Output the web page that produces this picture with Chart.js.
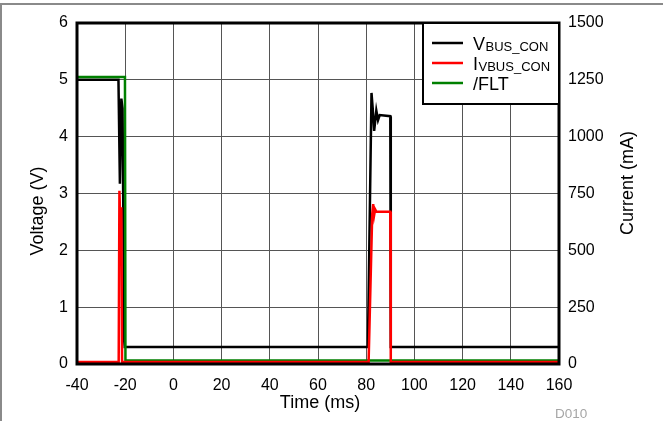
<!DOCTYPE html>
<html>
<head>
<title>VBUS_CON, IVBUS_CON, /FLT</title>
<style>
  body { margin: 0; background: #fff; }
  .chart-container { position: relative; width: 663px; height: 421px; }
</style>
</head>
<body>
<div class="chart-container">
<canvas id="mycanvas" width="663" height="421"></canvas>
</div>

<script src="https://cdn.jsdelivr.net/npm/chart.js@4.4.0/dist/chart.umd.min.js"></script>
<script>
var vbusTime = [-40, -22.8, -22.2, -21.6, -21.1, -20.4, -20.2, 80.7, 82.2, 82.7, 83.3, 84.2, 84.9, 85.6, 90.0, 90.2, 160];
var vbusVolt = [5.0, 5.0, 3.17, 4.67, 4.5, 0.4, 0.3, 0.3, 4.77, 4.5, 4.1, 4.46, 4.29, 4.38, 4.36, 0.3, 0.3];

var ibusTime = [-40, -22.7, -22.4, -22.0, -21.6, -21.3, 81.0, 82.5, 82.9, 83.3, 83.7, 84.2, 90.0, 90.2, 160];
var ibusMa   = [9, 9, 762, 612, 690, 9, 9, 660, 703, 655, 680, 670, 670, 9, 9];

var fltTime = [-40, -20.1, -19.9, 160];
var fltVolt = [5.05, 5.05, 0.06, 0.06];

var timeTicks = [-40, -20, 0, 20, 40, 60, 80, 100, 120, 140, 160];
var voltTicks = [0, 1, 2, 3, 4, 5, 6];
var currTicks = [0, 250, 500, 750, 1000, 1250, 1500];

function points(xs, ys) {
  var out = [];
  for (var i in xs) out.push({x: xs[i], y: ys[i]});
  return out;
}

function fixedTicks(list) {
  return function(s) { s.ticks = list.map(function(v) { return {value: v}; }); };
}

function plain(v) { return String(v); }

var FONT = '"Liberation Sans", Arial, sans-serif';

var extras = {
  id: 'extras',
  afterDatasetsDraw: function(chart) {
    var ctx = chart.ctx, a = chart.chartArea;
    ctx.save();
    ctx.strokeStyle = '#000';
    ctx.lineWidth = 3;
    ctx.strokeRect(a.left, a.top, a.right - a.left, a.bottom - a.top);
    ctx.restore();
  },
  afterDraw: function(chart) {
    var ctx = chart.ctx, a = chart.chartArea;
    ctx.save();

    // outer frame (top + left only)
    ctx.strokeStyle = '#8a8a8a';
    ctx.lineWidth = 2;
    ctx.beginPath();
    ctx.moveTo(663, 4); ctx.lineTo(1, 4); ctx.lineTo(1, 421);
    ctx.stroke();

    // axis titles
    ctx.fillStyle = '#000';
    ctx.font = '18px ' + FONT;
    ctx.textAlign = 'center';
    ctx.textBaseline = 'middle';
    ctx.save();
    ctx.translate(38, 211);
    ctx.rotate(-Math.PI / 2);
    ctx.fillText('Voltage (V)', 0, 0);
    ctx.restore();
    ctx.save();
    ctx.translate(628, 183);
    ctx.rotate(-Math.PI / 2);
    ctx.fillText('Current (mA)', 0, 0);
    ctx.restore();
    ctx.fillText('Time (ms)', 320, 403);

    ctx.fillStyle = '#a6a6a6';
    ctx.font = '13.5px ' + FONT;
    ctx.textAlign = 'left';
    ctx.fillText('D010', 555, 414);

    // legend
    var lx = 423, ly = a.top, lw = a.right - lx, lh = 81;
    ctx.fillStyle = '#fff';
    ctx.fillRect(lx, ly, lw, lh);
    ctx.strokeStyle = '#000';
    ctx.lineWidth = 2;
    ctx.strokeRect(lx, ly, lw, lh);

    var rows = [
      {color: '#000000', main: 'V', sub: 'BUS_CON'},
      {color: '#ff0000', main: 'I', sub: 'VBUS_CON'},
      {color: '#008000', main: '/FLT', sub: ''}
    ];
    ctx.textBaseline = 'alphabetic';
    for (var i = 0; i < rows.length; i++) {
      var y = ly + 20 + i * 20;
      ctx.strokeStyle = rows[i].color;
      ctx.lineWidth = 2.5;
      ctx.beginPath();
      ctx.moveTo(432, y); ctx.lineTo(463, y);
      ctx.stroke();
      ctx.fillStyle = '#000';
      ctx.font = '18px ' + FONT;
      ctx.fillText(rows[i].main, 473, y + 6.5);
      var w = ctx.measureText(rows[i].main).width;
      if (rows[i].sub) {
        ctx.font = '13px ' + FONT;
        ctx.fillText(rows[i].sub, 473 + w + 0.5, y + 8);
      }
    }
    ctx.restore();
  }
};

var chartdata = {
  datasets: [
    {
      label: 'VBUS_CON',
      data: points(vbusTime, vbusVolt),
      borderColor: '#000000',
      backgroundColor: '#000000',
      yAxisID: 'y',
      order: 2
    },
    {
      label: 'IVBUS_CON',
      data: points(ibusTime, ibusMa),
      borderColor: '#ff0000',
      backgroundColor: '#ff0000',
      yAxisID: 'y1',
      order: 0
    },
    {
      label: '/FLT',
      data: points(fltTime, fltVolt),
      borderColor: '#008000',
      backgroundColor: '#008000',
      yAxisID: 'y',
      order: 1
    }
  ]
};

var tickFont = {family: FONT, size: 16};

var ctx = document.getElementById('mycanvas');
var LineGraph = new Chart(ctx, {
  type: 'line',
  data: chartdata,
  plugins: [extras],
  options: {
    responsive: false,
    animation: false,
    events: [],
    layout: {padding: {top: 23, left: 0, right: 0, bottom: 0}},
    elements: {
      line: {borderWidth: 2.5, tension: 0},
      point: {radius: 0}
    },
    plugins: {
      legend: {display: false},
      tooltip: {enabled: false}
    },
    scales: {
      x: {
        type: 'linear',
        min: timeTicks[0],
        max: timeTicks[timeTicks.length - 1],
        afterBuildTicks: fixedTicks(timeTicks),
        afterFit: function(s) { s.height = 57; },
        grid: {color: '#555', lineWidth: 1, drawTicks: false},
        border: {display: false},
        ticks: {color: '#000', font: tickFont, padding: 12, maxRotation: 0, autoSkip: false, callback: plain}
      },
      y: {
        position: 'left',
        min: voltTicks[0],
        max: voltTicks[voltTicks.length - 1],
        afterBuildTicks: fixedTicks(voltTicks),
        afterFit: function(s) { s.width = 77; },
        grid: {color: '#555', lineWidth: 1, drawTicks: false},
        border: {display: false},
        ticks: {color: '#000', font: tickFont, padding: 9, callback: plain}
      },
      y1: {
        position: 'right',
        min: currTicks[0],
        max: currTicks[currTicks.length - 1],
        afterBuildTicks: fixedTicks(currTicks),
        afterFit: function(s) { s.width = 104; },
        grid: {drawOnChartArea: false, drawTicks: false},
        border: {display: false},
        ticks: {color: '#000', font: tickFont, padding: 9, callback: plain}
      }
    }
  }
});
</script>
</body>
</html>
